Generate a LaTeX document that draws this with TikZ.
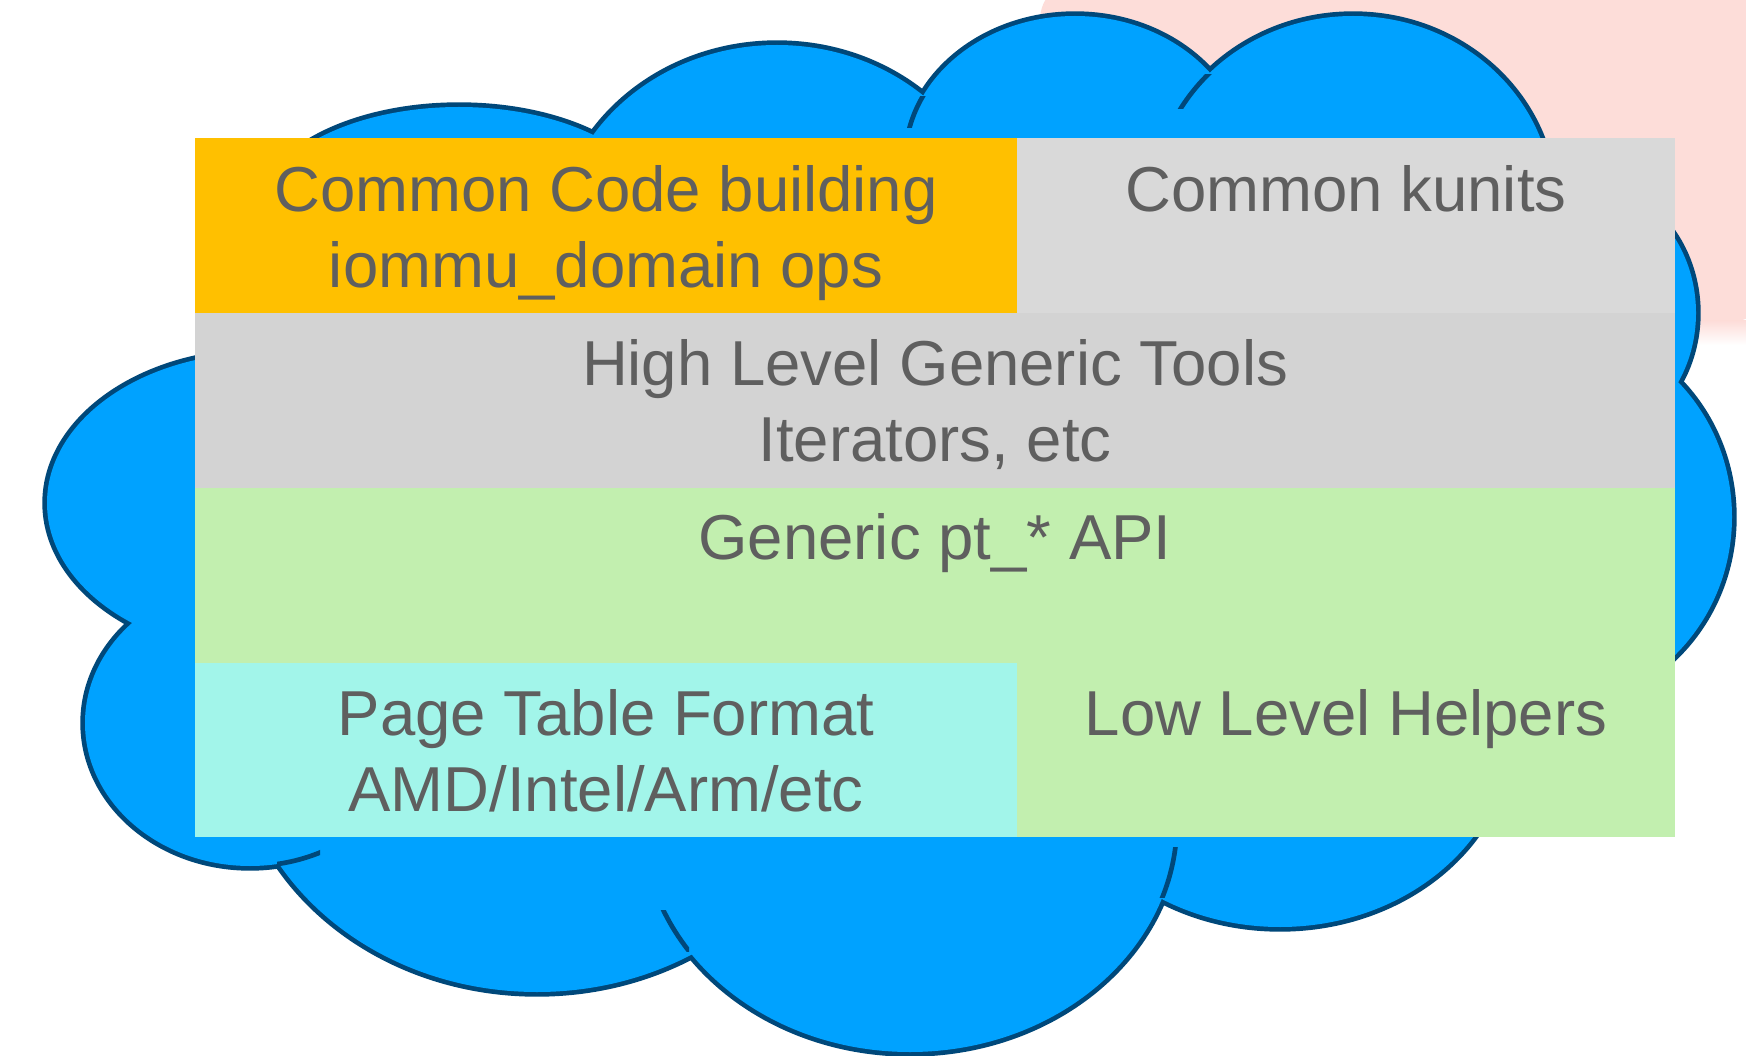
\documentclass[tikz,border=0pt]{standalone}
\usepackage{fontspec}
\setmainfont{Liberation Sans}
\definecolor{cBlue}{HTML}{00A2FF}
\definecolor{cLine}{HTML}{00487A}
\definecolor{cOrange}{HTML}{FFC000}
\definecolor{cGrayA}{HTML}{D9D9D9}
\definecolor{cGrayB}{HTML}{D3D3D3}
\definecolor{cGreen}{HTML}{C2EFAF}
\definecolor{cCyan}{HTML}{A2F5EA}
\definecolor{cPink}{HTML}{FDDDD9}
\definecolor{cText}{HTML}{5F5F5F}
\tikzset{
  cell/.style={rectangle, inner sep=0pt, outer sep=0pt, anchor=north west, draw=none},
  lbl/.style={text=cText, font=\fontsize{63.5}{76}\selectfont, inner sep=0pt, anchor=base},
  cloudedge/.style={draw=cLine, line width=9.4pt},
  cloudfill/.style={fill=cBlue},
  innerstroke/.style={draw=cLine, line width=4.7pt},
}
\begin{document}
\begin{tikzpicture}[x=1pt,y=-1pt]
\useasboundingbox (0,0) rectangle (1746,1056);
\fill[white] (0,0) rectangle (1746,1056);
% pink background blob (top right)
\fill[cPink, rounded corners=40pt] (1040,-20) rectangle (1770,322);
\shade[top color=cPink, bottom color=white] (1100,321) rectangle (1770,345);
% cloud: outer outline then fill
\foreach \cx/\cy/\rx/\ry in {459/215/200/108, 777/245/220/200, 1075/161/170/145, 1353/204/200/188, 1576/313/120/132, 1552/517/180/189, 1280/730/230/197, 910/822/267/230, 537/730/300/262, 250/723/165/143, 260/503/213/150}
  \path[cloudedge] (\cx,\cy) ellipse [x radius=\rx pt, y radius=\ry pt];
\foreach \cx/\cy/\rx/\ry in {459/215/200/108, 777/245/220/200, 1075/161/170/145, 1353/204/200/188, 1576/313/120/132, 1552/517/180/189, 1280/730/230/197, 910/822/267/230, 537/730/300/262, 250/723/165/143, 260/503/213/150}
  \path[cloudfill] (\cx,\cy) ellipse [x radius=\rx pt, y radius=\ry pt];
% inner strokes of the cloud
\begin{scope}
  \clip (895,97) rectangle (930,128);
  \path[innerstroke] (1075,161) ellipse [x radius=170pt, y radius=145pt];
\end{scope}
\begin{scope}
  \clip (1172,75) rectangle (1212,109);
  \path[innerstroke] (1353,204) ellipse [x radius=200pt, y radius=188pt];
\end{scope}
\begin{scope}
  \clip (650,910) rectangle (689,951);
  \path[innerstroke] (910,822) ellipse [x radius=267pt, y radius=230pt];
\end{scope}
\begin{scope}
  \clip (1150,847) rectangle (1185,897);
  \path[innerstroke] (910,822) ellipse [x radius=267pt, y radius=230pt];
\end{scope}
\begin{scope}
  \clip (277,840) rectangle (320,872);
  \path[innerstroke] (250,723) ellipse [x radius=165pt, y radius=143pt];
\end{scope}
% cells
\node[cell, fill=cOrange, minimum width=822pt, minimum height=175pt] (common) at (195,138) {};
\node[cell, fill=cGrayA, minimum width=658pt, minimum height=175pt] (kunits) at (1017,138) {};
\node[cell, fill=cGrayB, minimum width=1480pt, minimum height=175pt] (high) at (195,313) {};
\node[cell, fill=cGreen, minimum width=1480pt, minimum height=175pt] (api) at (195,488) {};
\node[cell, fill=cCyan, minimum width=822pt, minimum height=174pt] (fmt) at (195,663) {};
\node[cell, fill=cGreen, minimum width=658pt, minimum height=174pt] (low) at (1017,663) {};
% labels
\node[lbl] (t1) at (606,211.5) {Common Code building};
\node[lbl] (t2) at (606,287.5) {iommu\_domain ops};
\node[lbl] (t3) at (1346,211.5) {Common kunits};
\node[lbl] (t4) at (935,385.5) {High Level Generic Tools};
\node[lbl] (t5) at (935,461.5) {Iterators, etc};
\node[lbl] (t6) at (935,559.5) {Generic pt\_* API};
\node[lbl] (t7) at (606,735) {Page Table Format};
\node[lbl] (t8) at (606,811) {AMD/Intel/Arm/etc};
\node[lbl] (t9) at (1346,735) {Low Level Helpers};
\end{tikzpicture}
\end{document}
